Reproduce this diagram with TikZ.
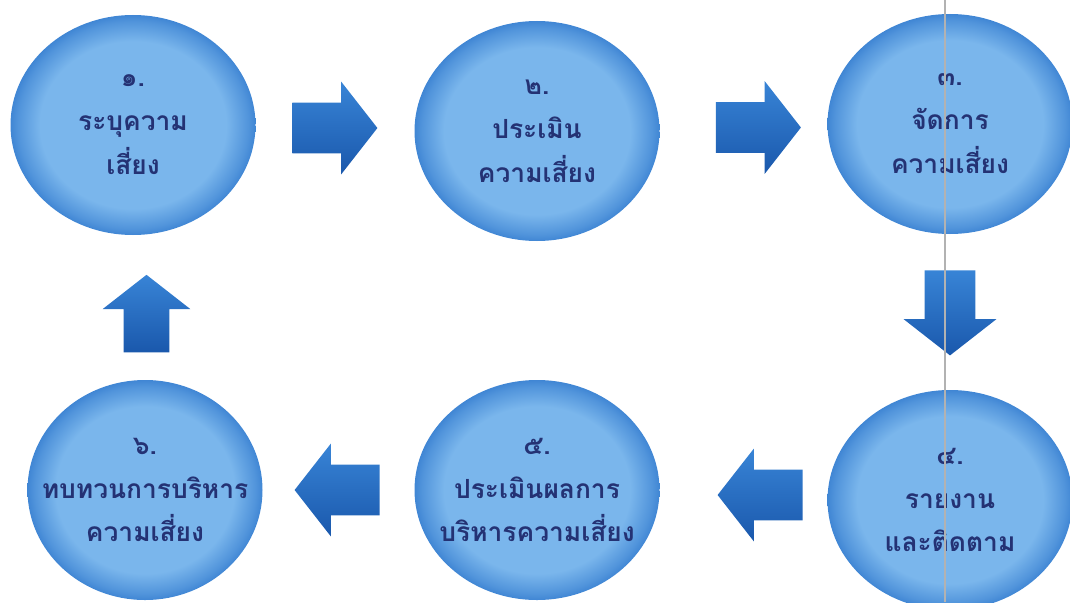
\documentclass[tikz,border=0pt]{standalone}
\usepackage{fontspec}
\newfontfamily\thaifont[Script=Thai]{Loma}
\usetikzlibrary{calc, shapes.geometric, shapes.arrows}

\definecolor{ballcentre}{RGB}{122,182,236}
\definecolor{ballrim}{RGB}{64,134,212}
\definecolor{arrowtop}{RGB}{56,132,214}
\definecolor{arrowbottom}{RGB}{26,88,172}
\definecolor{labelnavy}{RGB}{36,50,116}

\pgfdeclareradialshading{riskball}{\pgfpoint{0bp}{0bp}}{color(0bp)=(ballcentre); color(19bp)=(ballcentre); color(23.5bp)=(ballrim!70!ballcentre); color(25bp)=(ballrim); color(50bp)=(ballrim)}

\tikzset{
	riskstep/.style = {ellipse, shading = riskball, minimum width = 4.9cm, minimum height = 4.4cm, inner xsep = -0.5cm, inner ysep = 0pt, align = center, text = labelnavy},
	flowarrow/.style = {single arrow, top color = arrowtop, bottom color = arrowbottom, inner sep = 0.5cm, minimum height = 1.7cm, single arrow head extend = 0.42cm, single arrow tip angle = 104}
}

\begin{document}
\begin{tikzpicture}[font = \thaifont\bfseries\fontsize{15}{25}\selectfont]

	\useasboundingbox (0, 0) rectangle (21.4, -12.04);

	% Steps of the cycle
	
		\node (s1) [riskstep] at (2.66, -2.5) {๑.\\ระบุความ\\เสี่ยง};
		\node (s2) [riskstep] at (10.74, -2.62) {๒.\\ประเมิน\\ความเสี่ยง};
		\node (s3) [riskstep] at (19.0, -2.48) {๓.\\จัดการ\\ความเสี่ยง};
		\node (s4) [riskstep] at (19.0, -10.0) {๔.\\รายงาน\\และติดตาม};
		\node (s5) [riskstep] at (10.74, -9.8) {๕.\\ประเมินผลการ\\บริหารความเสี่ยง};
		\node (s6) [riskstep, minimum width = 4.7cm] at (2.9, -9.8) {๖.\\ทบทวนการบริหาร\\ความเสี่ยง};
		
	% Block arrows between the steps
	
		\node (a12) [flowarrow, xshift = -0.2cm] at ($(s1)!0.5!(s2)$) {};
		\node (a23) [flowarrow, xshift = 0.1cm] at ($(s2)!0.5!(s3)$) {};
		\node (a34) [flowarrow, shape border rotate = 270, yshift = 0.18cm] at ($(s3)!0.5!(s4)$) {};
		\node (a45) [flowarrow, shape border rotate = 180, xshift = 0.53cm] at ($(s4)!0.5!(s5)$) {};
		\node (a56) [flowarrow, shape border rotate = 180, xshift = 0.12cm] at ($(s5)!0.5!(s6)$) {};
		\node (a61) [flowarrow, shape border rotate = 90, minimum height = 1.55cm, inner sep = 0.45cm, xshift = 0.15cm, yshift = -0.3cm] at ($(s6)!0.5!(s1)$) {};
		
	% Scan line
	
	\draw [gray!60, line width = 0.7pt] (18.9, 0) -- (18.9, -12.04);

\end{tikzpicture}
\end{document}
